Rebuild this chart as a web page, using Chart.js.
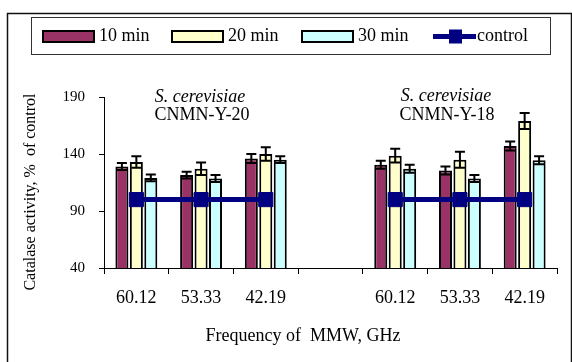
<!DOCTYPE html>
<html>
<head>
<meta charset="utf-8">
<script src="https://cdn.jsdelivr.net/npm/chart.js@4.4.0/dist/chart.umd.min.js"></script>
<style>
  html, body { margin: 0; padding: 0; background: #fff; }
  #wrap { width: 572px; height: 362px; }
</style>
</head>
<body>
<div id="wrap"><canvas id="chart" width="572" height="362"></canvas></div>
<script>
// categories (empty slot separates the two strains)
const frequencies = ["60.12", "53.33", "42.19", "", "60.12", "53.33", "42.19"];

// catalase activity, % of control
const min10 = [129, 121.5, 136, null, 130.5, 125.5, 147];
const min20 = [133, 127, 140, null, 138.5, 135, 169];
const min30 = [119, 118.5, 135, null, 127, 118.5, 134.5];
const control = [100, 100, 100, null, 100, 100, 100];

// error bars (+/-)
const err10 = [3, 3, 4, null, 3.5, 3.5, 4];
const err20 = [5, 5.5, 6, null, 6, 7, 7];
const err30 = [3, 3, 3, null, 3.5, 3, 3.5];

const yTicks = [40, 90, 140, 190];

const serif = "'Liberation Serif', 'Times New Roman', serif";

const extras = {
  id: "extras",
  afterDatasetsDraw(chart) {
    const ctx = chart.ctx;
    const y = chart.scales.y;
    ctx.save();
    ctx.strokeStyle = "#000";
    ctx.lineWidth = 2;
    chart.data.datasets.forEach((ds, i) => {
      if (!ds.errors) return;
      const meta = chart.getDatasetMeta(i);
      meta.data.forEach((bar, j) => {
        const v = ds.data[j];
        const e = ds.errors[j];
        if (v == null || e == null) return;
        const top = y.getPixelForValue(v + e);
        const bot = y.getPixelForValue(v - e);
        const hw = bar.width / 2 - 1.5;
        ctx.beginPath();
        ctx.moveTo(bar.x, top);
        ctx.lineTo(bar.x, bot);
        ctx.moveTo(bar.x - hw, top);
        ctx.lineTo(bar.x + hw, top);
        ctx.moveTo(bar.x - hw, bot);
        ctx.lineTo(bar.x + hw, bot);
        ctx.stroke();
      });
    });
    ctx.restore();
  },
  afterDraw(chart) {
    const ctx = chart.ctx;
    ctx.save();

    // outer frame
    ctx.strokeStyle = "#111";
    ctx.lineWidth = 1.5;
    ctx.strokeRect(7.5, 13.5, 564, 400);

    // legend box
    ctx.lineWidth = 1;
    ctx.strokeStyle = "#333";
    ctx.strokeRect(31.5, 17.5, 519, 37);

    const ly = 36.5;
    ctx.font = "18px " + serif;
    ctx.fillStyle = "#000";
    ctx.textBaseline = "middle";
    ctx.textAlign = "left";
    const swatchX = [43, 172, 302];
    const ds = chart.data.datasets;
    for (let i = 0; i < 3; i++) {
      ctx.fillStyle = ds[i].backgroundColor;
      ctx.fillRect(swatchX[i], ly - 5.5, 51, 11);
      ctx.lineWidth = 2;
      ctx.strokeStyle = "#000";
      ctx.strokeRect(swatchX[i], ly - 5.5, 51, 11);
      ctx.fillStyle = "#000";
      ctx.fillText(ds[i].label, swatchX[i] + 56, ly);
    }
    ctx.strokeStyle = ds[3].borderColor;
    ctx.lineWidth = 5;
    ctx.beginPath();
    ctx.moveTo(433, ly);
    ctx.lineTo(476, ly);
    ctx.stroke();
    ctx.fillStyle = ds[3].borderColor;
    ctx.fillRect(449, ly - 7, 13, 14);
    ctx.fillStyle = "#000";
    ctx.fillText(ds[3].label, 477, ly);

    // strain annotations
    ctx.textAlign = "center";
    ctx.font = "italic 18px " + serif;
    ctx.fillText("S. cerevisiae", 200, 97);
    ctx.fillText("S. cerevisiae", 446, 96);
    ctx.font = "18px " + serif;
    ctx.fillText("CNMN-Y-20", 202, 115);
    ctx.fillText("CNMN-Y-18", 447, 115);

    // axis titles
    ctx.fillText("Frequency of  MMW, GHz", 303, 336);
    ctx.font = "16px " + serif;
    ctx.translate(31, 192);
    ctx.rotate(-Math.PI / 2);
    ctx.fillText("Catalase activity, %  of control", 0, 0);

    ctx.restore();
  }
};

const barStyle = { borderColor: "#000", borderWidth: 2, borderSkipped: false, order: 1 };

new Chart(document.getElementById("chart").getContext("2d"), {
  type: "bar",
  data: {
    labels: frequencies,
    datasets: [
      { ...barStyle, label: "10 min", data: min10, errors: err10, backgroundColor: "#993366" },
      { ...barStyle, label: "20 min", data: min20, errors: err20, backgroundColor: "#FFFFCC" },
      { ...barStyle, label: "30 min", data: min30, errors: err30, backgroundColor: "#CCFFFF" },
      {
        type: "line",
        label: "control",
        data: control,
        order: 0,
        borderColor: "#000080",
        backgroundColor: "#000080",
        borderWidth: 5,
        pointStyle: "rect",
        pointRadius: 10,
        pointBorderWidth: 1,
        spanGaps: false,
        tension: 0
      }
    ]
  },
  options: {
    responsive: false,
    animation: false,
    categoryPercentage: 0.67,
    barPercentage: 0.9,
    layout: { padding: { top: 97, right: 15, left: 0, bottom: 0 } },
    plugins: { legend: { display: false }, tooltip: { enabled: false } },
    scales: {
      x: {
        afterFit: (s) => { s.height = 94; },
        grid: { offset: true, drawOnChartArea: false, tickLength: 6, color: "#000" },
        border: { color: "#000", width: 1 },
        ticks: { color: "#000", font: { family: serif, size: 18 }, padding: 13, maxRotation: 0 }
      },
      y: {
        min: 40,
        max: 190,
        afterFit: (s) => { s.width = 104; },
        afterBuildTicks: (s) => { s.ticks = yTicks.map((v) => ({ value: v })); },
        grid: { drawOnChartArea: false, tickLength: 5, color: "#000" },
        border: { color: "#000", width: 1 },
        ticks: { color: "#000", font: { family: serif, size: 15 }, padding: 14 }
      }
    }
  },
  plugins: [extras]
});
</script>
</body>
</html>
